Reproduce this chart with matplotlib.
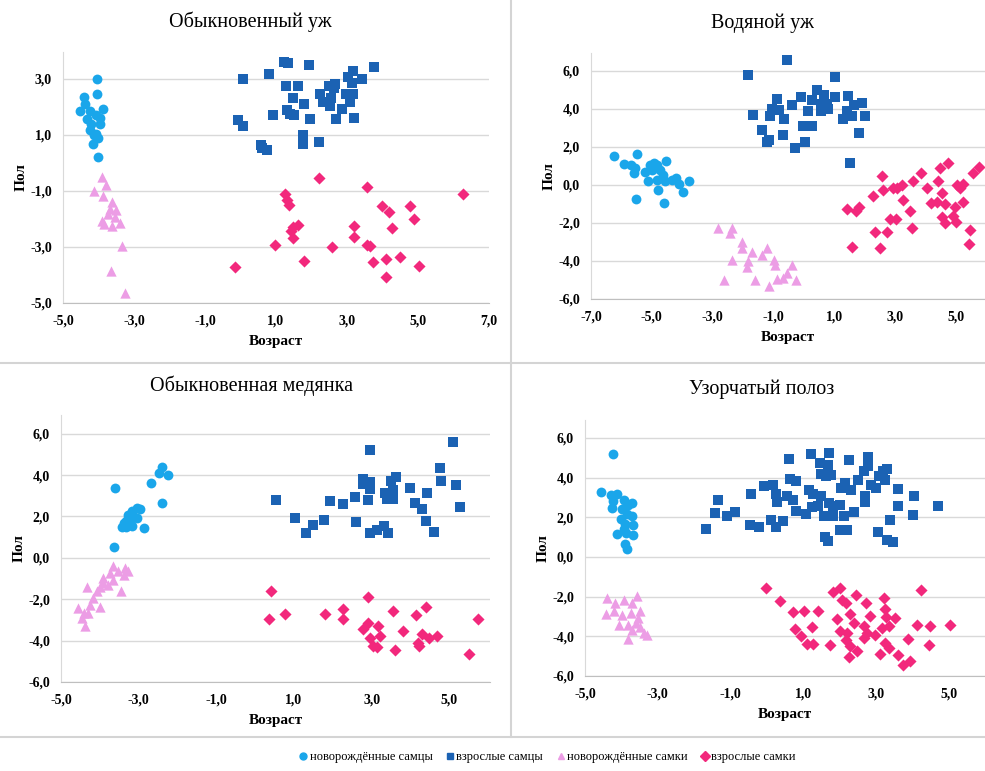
import matplotlib
matplotlib.use("Agg")
import matplotlib.pyplot as plt
from matplotlib.lines import Line2D
from matplotlib.ticker import FuncFormatter

plt.rcParams['font.family'] = ['Liberation Serif', 'DejaVu Serif']

# --- данные: (возраст, пол) ---
# Обыкновенный уж
uzh_nm = [(-4.04, 2.98), (-4.04, 2.46), (-4.42, 2.35), (-4.37, 2.08), (-4.51, 1.85), (-4.25, 1.85),
          (-4.31, 1.57), (-4.06, 1.69), (-3.88, 1.90), (-3.97, 1.61), (-3.95, 1.37), (-4.21, 1.37),
          (-4.25, 1.18), (-4.14, 0.98), (-4.06, 1.04), (-4.00, 0.88), (-4.16, 0.68), (-4.00, 0.20)]
uzh_am = [(1.23, 3.60), (1.35, 3.56), (1.94, 3.48), (3.77, 3.42), (0.08, 3.00), (0.80, 3.18),
          (3.18, 3.26), (3.04, 3.06), (3.41, 3.00), (3.13, 2.86), (1.29, 2.74), (1.63, 2.74),
          (2.48, 2.73), (2.66, 2.82), (2.62, 2.68), (2.24, 2.46), (2.96, 2.44), (3.18, 2.44),
          (1.49, 2.32), (2.55, 2.32), (2.32, 2.17), (3.09, 2.17), (1.80, 2.08), (2.52, 2.01),
          (2.85, 1.93), (1.32, 1.87), (1.40, 1.75), (1.51, 1.69), (0.91, 1.69), (1.96, 1.57),
          (2.68, 1.55), (3.21, 1.61), (-0.06, 1.51), (0.07, 1.31), (1.77, 1.00), (1.77, 0.68),
          (2.20, 0.74), (0.58, 0.65), (0.60, 0.52), (0.74, 0.44)]
uzh_nf = [(-3.90, -0.51), (-3.78, -0.81), (-4.12, -1.01), (-3.87, -1.20), (-3.62, -1.40),
          (-3.67, -1.64), (-3.50, -1.68), (-3.74, -1.82), (-3.53, -1.94), (-3.90, -2.06),
          (-3.84, -2.20), (-3.62, -2.24), (-3.39, -2.15), (-3.34, -2.95), (-3.65, -3.87),
          (-3.25, -4.65)]
uzh_af = [(2.20, -0.54), (3.57, -0.85), (6.28, -1.13), (1.26, -1.11), (1.30, -1.32), (1.36, -1.50),
          (3.98, -1.55), (4.77, -1.55), (4.19, -1.74), (4.90, -2.00), (1.63, -2.21), (1.49, -2.30),
          (1.43, -2.42), (3.20, -2.26), (4.26, -2.33), (1.49, -2.69), (3.20, -2.65), (0.98, -2.93),
          (2.57, -2.99), (3.57, -2.93), (3.66, -2.98), (1.80, -3.49), (3.72, -3.55), (4.10, -3.43),
          (4.49, -3.35), (5.03, -3.67), (-0.15, -3.73), (4.10, -4.08)]

# Водяной уж
vod_nm = [(-6.23, 1.49), (-5.90, 1.11), (-5.49, 1.61), (-5.69, 1.02), (-5.54, 0.88), (-5.60, 0.61),
          (-5.21, 0.70), (-5.05, 1.02), (-4.83, 1.02), (-5.00, 0.79), (-4.72, 0.79), (-4.54, 1.26),
          (-5.11, 0.21), (-4.83, 0.26), (-4.63, 0.53), (-4.58, 0.18), (-4.34, 0.26), (-4.20, 0.35),
          (-4.12, 0.05), (-3.99, -0.39), (-3.79, 0.21), (-4.81, -0.26), (-5.52, -0.74),
          (-4.59, -0.96), (-4.94, 1.14)]
vod_am = [(-0.54, 6.58), (-1.82, 5.79), (1.03, 5.65), (0.45, 4.96), (0.67, 4.74), (-0.09, 4.61),
          (1.03, 4.61), (1.47, 4.65), (-0.87, 4.51), (0.27, 4.47), (0.56, 4.26), (0.76, 4.26),
          (1.90, 4.30), (1.65, 4.18), (-0.40, 4.18), (-1.05, 3.98), (-0.83, 3.95), (0.15, 3.86),
          (0.56, 3.89), (0.78, 3.98), (1.41, 3.86), (-1.66, 3.68), (-1.11, 3.60), (-0.65, 3.47),
          (1.30, 3.47), (1.60, 3.60), (2.01, 3.60), (-0.03, 3.07), (0.27, 3.07), (-1.36, 2.89),
          (-0.70, 2.63), (-1.13, 2.37), (-1.22, 2.23), (1.80, 2.72), (0.04, 2.25), (-0.29, 1.96),
          (1.52, 1.14)]
vod_nf = [(-2.81, -2.28), (-2.35, -2.28), (-2.44, -2.54), (-2.02, -2.98), (-2.04, -3.33),
          (-1.71, -3.51), (-1.82, -4.00), (-2.37, -3.95), (-1.87, -4.30), (-1.22, -3.33),
          (-1.38, -3.68), (-0.98, -3.95), (-0.94, -4.21), (-0.40, -4.21), (-0.56, -4.65),
          (-0.69, -4.91), (-0.87, -4.96), (-0.25, -5.00), (-1.13, -5.30), (-1.60, -5.00),
          (-2.62, -5.00)]
vod_af = [(2.56, 0.47), (3.84, 0.61), (4.48, 0.91), (4.73, 1.14), (5.57, 0.61), (5.76, 0.96),
          (3.60, 0.18), (4.42, 0.18), (2.61, -0.26), (2.94, -0.14), (3.07, -0.14), (3.24, 0.00),
          (4.04, -0.18), (4.53, -0.44), (5.05, 0.00), (5.22, 0.04), (5.14, -0.18), (2.27, -0.61),
          (3.27, -0.79), (4.20, -0.96), (4.37, -0.88), (4.64, -1.00), (5.25, -0.88), (4.97, -1.14),
          (1.41, -1.28), (1.80, -1.18), (1.72, -1.40), (3.49, -1.40), (2.84, -1.81), (3.02, -1.81),
          (4.53, -1.67), (4.64, -2.02), (4.92, -1.63), (5.02, -1.96), (3.55, -2.28), (2.34, -2.46),
          (2.73, -2.46), (5.46, -2.37), (5.44, -3.11), (1.58, -3.28), (2.51, -3.33)]

# Обыкновенная медянка
med_nm = [(-2.41, 4.39), (-2.47, 4.11), (-2.24, 4.00), (-2.69, 3.63), (-3.61, 3.39), (-2.41, 2.63),
          (-3.05, 2.42), (-2.97, 2.34), (-3.18, 2.26), (-3.27, 2.06), (-3.14, 2.02), (-3.03, 1.94),
          (-3.33, 1.77), (-3.21, 1.69), (-3.44, 1.50), (-3.33, 1.48), (-3.18, 1.53), (-2.86, 1.45),
          (-3.39, 1.69), (-3.63, 0.53)]
med_am = [(5.09, 5.60), (2.96, 5.21), (4.76, 4.35), (3.64, 3.90), (2.79, 3.79), (2.97, 3.66),
          (3.49, 3.71), (4.80, 3.71), (2.79, 3.55), (4.00, 3.39), (5.17, 3.52), (2.97, 3.31),
          (3.55, 3.27), (3.34, 3.11), (4.43, 3.11), (2.57, 2.95), (0.54, 2.79), (1.93, 2.74),
          (2.91, 2.79), (3.39, 2.82), (3.55, 2.82), (2.27, 2.58), (4.12, 2.63), (4.29, 2.37),
          (5.27, 2.45), (1.04, 1.94), (1.78, 1.85), (2.61, 1.74), (4.39, 1.77), (1.50, 1.58),
          (3.33, 1.53), (3.13, 1.34), (3.43, 1.21), (2.96, 1.21), (1.30, 1.21), (4.61, 1.26)]
med_nf = [(-3.65, -0.40), (-3.52, -0.65), (-3.35, -0.48), (-3.27, -0.65), (-3.38, -0.81),
          (-3.74, -0.73), (-3.65, -1.05), (-3.91, -1.21), (-4.00, -1.42), (-4.08, -1.61),
          (-3.78, -1.29), (-3.46, -1.61), (-4.34, -1.42), (-4.17, -1.94), (-4.25, -2.26),
          (-4.00, -2.39), (-4.55, -2.42), (-4.42, -2.66), (-4.30, -2.66), (-4.47, -2.90),
          (-4.38, -3.31), (-3.91, -0.97)]
med_af = [(0.42, -1.61), (0.36, -2.95), (0.77, -2.71), (1.80, -2.71), (2.27, -2.47), (2.27, -2.98),
          (2.91, -1.89), (3.56, -2.55), (4.40, -2.37), (4.14, -2.77), (5.75, -2.94), (2.91, -3.15),
          (2.77, -3.44), (3.17, -3.31), (3.21, -3.76), (2.97, -3.87), (3.82, -3.55), (4.29, -3.68),
          (4.48, -3.87), (4.69, -3.76), (3.03, -4.27), (3.13, -4.32), (3.60, -4.44), (4.20, -4.11),
          (4.22, -4.27), (5.52, -4.65)]

# Узорчатый полоз
pol_nm = [(-4.22, 5.20), (-4.57, 3.27), (-4.29, 3.10), (-4.11, 3.19), (-4.22, 2.80), (-3.93, 2.89),
          (-3.72, 2.72), (-3.83, 2.63), (-4.27, 2.47), (-3.99, 2.42), (-3.85, 2.18), (-3.72, 2.05),
          (-4.02, 1.91), (-3.90, 1.68), (-3.67, 1.63), (-4.13, 1.16), (-3.87, 1.21), (-3.69, 1.12),
          (-3.90, 0.67), (-3.85, 0.40), (-3.93, 1.41)]
pol_am = [(-1.68, 1.41), (-1.42, 2.21), (-1.33, 2.85), (-1.10, 2.05), (-0.87, 2.25), (-0.44, 3.19),
          (-0.46, 1.59), (-0.21, 1.49), (-0.09, 3.56), (0.17, 3.64), (0.11, 1.88), (0.26, 3.19),
          (0.29, 2.77), (0.26, 1.49), (0.44, 1.80), (0.60, 4.93), (0.55, 3.09), (0.64, 3.94),
          (0.80, 3.81), (0.73, 2.85), (0.81, 2.30), (1.07, 2.18), (1.21, 5.20), (1.17, 3.39),
          (1.28, 3.19), (1.24, 2.52), (1.42, 2.58), (1.45, 4.73), (1.49, 4.18), (1.70, 5.23),
          (1.67, 4.65), (1.63, 4.06), (1.76, 4.14), (1.49, 3.05), (1.56, 2.05), (1.72, 2.72),
          (1.81, 2.55), (2.02, 2.63), (1.83, 2.05), (2.11, 2.05), (1.61, 0.99), (1.68, 0.82),
          (2.04, 3.47), (2.14, 3.72), (2.31, 3.36), (2.25, 4.90), (2.02, 1.38), (2.20, 1.38),
          (2.41, 2.25), (2.50, 3.89), (2.66, 4.31), (2.78, 5.02), (2.78, 4.60), (2.71, 3.09),
          (2.71, 2.75), (2.86, 3.64), (3.00, 3.47), (3.09, 4.06), (3.19, 4.31), (3.30, 4.43),
          (3.26, 3.86), (3.07, 1.26), (3.30, 0.87), (3.39, 1.85), (3.47, 0.76), (3.60, 3.44),
          (3.62, 2.58), (4.02, 2.13), (4.06, 3.09), (4.70, 2.58)]
pol_nf = [(-4.39, -2.06), (-3.58, -1.98), (-4.17, -2.32), (-3.94, -2.18), (-3.72, -2.32),
          (-4.42, -2.90), (-4.20, -2.73), (-3.99, -2.95), (-3.74, -2.82), (-3.49, -2.73),
          (-3.53, -3.07), (-4.06, -3.41), (-3.83, -3.41), (-3.72, -3.66), (-3.49, -3.52),
          (-3.30, -3.91), (-3.83, -4.13), (-3.39, -3.83), (-3.60, -3.32)]
pol_af = [(-0.02, -1.56), (0.35, -2.20), (0.72, -2.77), (1.03, -2.70), (1.40, -2.70), (0.78, -3.61),
          (0.94, -3.99), (1.24, -3.54), (1.10, -4.41), (1.28, -4.41), (1.82, -1.76), (2.00, -1.59),
          (2.06, -2.15), (2.18, -2.32), (2.46, -1.93), (1.93, -3.15), (2.00, -3.74), (2.28, -2.90),
          (2.39, -3.32), (2.20, -3.83), (2.18, -4.19), (2.29, -4.50), (2.48, -4.75), (2.25, -5.03),
          (1.74, -4.46), (2.73, -2.32), (2.84, -2.99), (2.66, -3.49), (2.75, -3.83), (2.66, -4.08),
          (2.98, -3.94), (3.23, -2.06), (3.26, -2.62), (3.28, -3.02), (3.18, -3.57), (3.37, -3.46),
          (3.53, -3.07), (3.26, -4.33), (3.37, -4.58), (3.12, -4.87), (3.62, -4.95), (3.74, -5.47),
          (3.94, -5.22), (3.87, -4.13), (4.13, -3.44), (4.24, -1.68), (4.48, -3.49), (4.45, -4.46),
          (5.05, -3.41)]

titles = ['Обыкновенный уж', 'Водяной уж', 'Обыкновенная медянка', 'Узорчатый полоз']
groups = ['новорождённые самцы', 'взрослые самцы', 'новорождённые самки', 'взрослые самки']
colors = ['#1aa6ea', '#1b62b3', '#ec9de5', '#f2287c']
markers = ['o', 's', '^', 'D']
sizes = [50, 42, 55, 38]

panels = [
    (titles[0], [uzh_nm, uzh_am, uzh_nf, uzh_af], (-5, 7), (-5, 3.95), (-5, 3)),
    (titles[1], [vod_nm, vod_am, vod_nf, vod_af], (-7, 5.96), (-6, 6.93), (-6, 6)),
    (titles[2], [med_nm, med_am, med_nf, med_af], (-5, 6.05), (-6, 6.9), (-6, 6)),
    (titles[3], [pol_nm, pol_am, pol_nf, pol_af], (-5, 6.0), (-6, 6.9), (-6, 6)),
]

W, H = 985, 771
# прямоугольники областей построения (пиксели: x0, y0 сверху, x1, y1)
boxes = [(63, 52, 489, 303), (591, 53, 985, 299), (61, 415, 490, 682), (585, 420, 985, 676)]
title_pos = [(250, 22), (762, 23), (252, 386), (762, 389)]

fig = plt.figure(figsize=(W / 100, H / 100), dpi=100)
fmt = FuncFormatter(lambda v, p: f'{v:.1f}'.replace('.', ','))

for (title, data, xl, yl, ytk), box, tp in zip(panels, boxes, title_pos):
    x0, y0, x1, y1 = box
    ax = fig.add_axes([x0 / W, 1 - y1 / H, (x1 - x0) / W, (y1 - y0) / H])
    for pts, c, m, s in zip(data, colors, markers, sizes):
        xs = [p[0] for p in pts]
        ys = [p[1] for p in pts]
        ax.scatter(xs, ys, s=s, c=c, marker=m, linewidths=0, zorder=3)
    ax.set_xlim(*xl)
    ax.set_ylim(*yl)
    ax.set_xticks([v for v in range(int(xl[0]), int(xl[1]) + 1, 2) if v <= xl[1]])
    ax.set_yticks(list(range(ytk[0], ytk[1] + 1, 2)))
    ax.xaxis.set_major_formatter(fmt)
    ax.yaxis.set_major_formatter(fmt)
    ax.grid(axis='y', color='#d9d9d9', linewidth=1.0)
    ax.set_axisbelow(True)
    for sp in ['top', 'right']:
        ax.spines[sp].set_visible(False)
    ax.spines['left'].set_color('#d9d9d9')
    ax.spines['bottom'].set_color('#bfbfbf')
    ax.tick_params(length=0, labelsize=10, pad=8)
    for lab in ax.get_xticklabels() + ax.get_yticklabels():
        lab.set_fontweight('bold')
    ax.set_xlabel('Возраст', fontsize=11, fontweight='bold', labelpad=6)
    ax.set_ylabel('Пол', fontsize=11, fontweight='bold', labelpad=2)
    fig.text(tp[0] / W, 1 - tp[1] / H, title, fontsize=14.5, ha='center', va='center')

# рамки между панелями
line_c = '#d4d4d4'
fig.add_artist(Line2D([0, 1], [1 - 363 / H] * 2, color=line_c, lw=1.5, transform=fig.transFigure))
fig.add_artist(Line2D([0, 1], [1 - 737 / H] * 2, color=line_c, lw=1.5, transform=fig.transFigure))
fig.add_artist(Line2D([511 / W] * 2, [1, 1 - 737 / H], color=line_c, lw=1.5, transform=fig.transFigure))

handles = [Line2D([], [], linestyle='none', marker=m, color=c, markersize=5)
           for m, c in zip(markers, colors)]
fig.legend(handles, groups, loc='center', bbox_to_anchor=(547 / W, 1 - 757 / H), ncol=4,
           frameon=False, fontsize=9, handletextpad=0.1, columnspacing=1.0, handlelength=0.8)

fig.savefig('out.png', dpi=100)
